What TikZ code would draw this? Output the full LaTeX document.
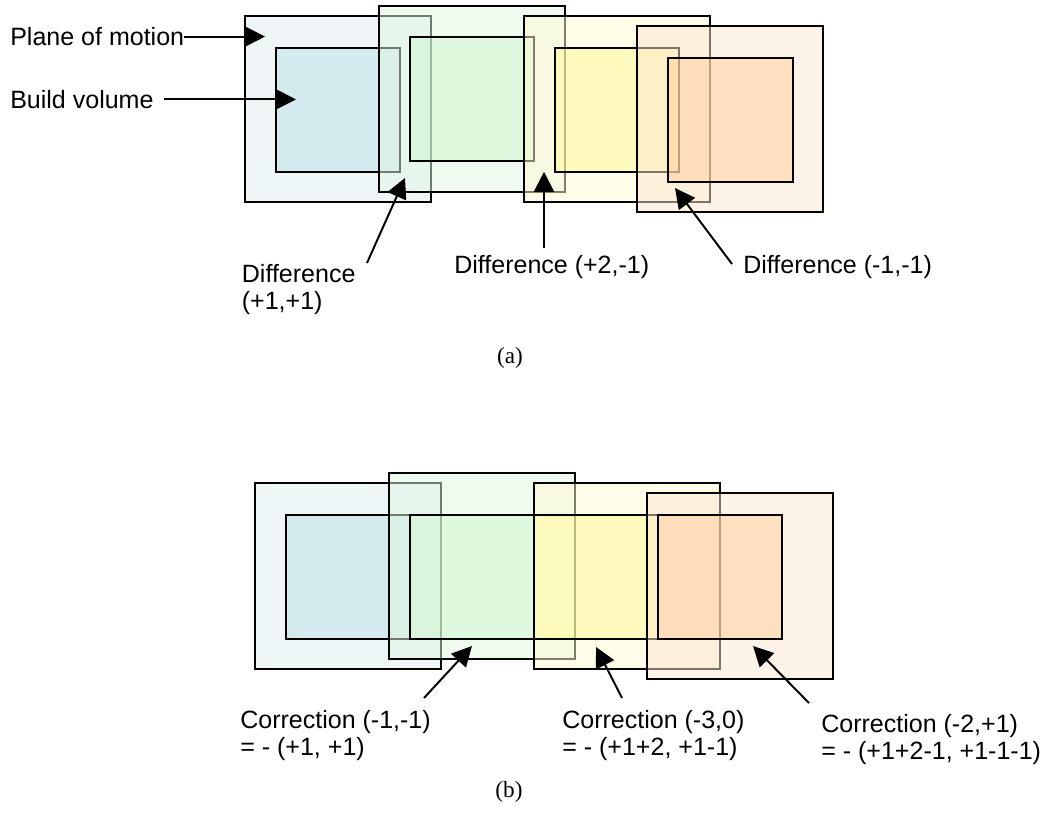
\documentclass[tikz,border=0pt]{standalone}
\usepackage{fontspec}
\setmainfont{Liberation Serif}
\newfontfamily\labelfont{Liberation Sans}
\usetikzlibrary{arrows.meta}
\begin{document}
\begin{tikzpicture}
	\tikzstyle{every node}=[font=\labelfont\fontsize{17.8pt}{19.3pt}\selectfont]
	\tikzstyle{plane}=[line width=1.4pt, fill opacity=0.5]
	\tikzstyle{pointer}=[line width=1.4pt, -{Triangle[length=0.5cm,width=0.5cm]}]
	\tikzstyle{callout}=[inner sep=0pt, align=left, anchor=north west]
	\tikzstyle{tag}=[inner sep=0pt, anchor=west]
	\tikzstyle{caption}=[font=\rmfamily\fontsize{16.5pt}{20pt}\selectfont]
	\useasboundingbox (0,0) rectangle (26.15,20.325);
	% (a) each plane of motion with its build volume
	\draw [plane, fill={rgb,255:red,221; green,237; blue,241}] (6.125,19.925) rectangle (10.775,15.275);
	\draw [plane, fill={rgb,255:red,186; green,224; blue,228}] (6.9,19.125) rectangle (10,16.025);
	\draw [plane, fill={rgb,255:red,225; green,247; blue,225}] (9.475,20.175) rectangle (14.125,15.525);
	\draw [plane, fill={rgb,255:red,204; green,247; blue,204}] (10.25,19.4) rectangle (13.35,16.3);
	\draw [plane, fill={rgb,255:red,255; green,251; blue,209}] (13.1,19.925) rectangle (17.75,15.275);
	\draw [plane, fill={rgb,255:red,255; green,249; blue,150}] (13.875,19.125) rectangle (16.975,16.025);
	\draw [plane, fill={rgb,255:red,253; green,231; blue,209}] (15.925,19.675) rectangle (20.575,15.025);
	\draw [plane, fill={rgb,255:red,255; green,203; blue,152}] (16.7,18.875) rectangle (19.825,15.775);
	% (b) build volumes lined up after correction
	\draw [plane, fill={rgb,255:red,221; green,237; blue,241}] (6.375,8.25) rectangle (11.025,3.6);
	\draw [plane, fill={rgb,255:red,186; green,224; blue,228}] (7.15,7.45) rectangle (10.25,4.35);
	\draw [plane, fill={rgb,255:red,225; green,247; blue,225}] (9.725,8.5) rectangle (14.375,3.85);
	\draw [plane, fill={rgb,255:red,204; green,247; blue,204}] (10.25,7.45) rectangle (13.35,4.35);
	\draw [plane, fill={rgb,255:red,255; green,251; blue,209}] (13.35,8.25) rectangle (18,3.6);
	\draw [plane, fill={rgb,255:red,255; green,249; blue,150}] (13.35,7.45) rectangle (16.45,4.35);
	\draw [plane, fill={rgb,255:red,253; green,231; blue,209}] (16.175,8) rectangle (20.825,3.35);
	\draw [plane, fill={rgb,255:red,255; green,203; blue,152}] (16.45,7.45) rectangle (19.55,4.35);
	% labels (a)
	\node [tag] (planelbl) at (0.25,19.41) {Plane of motion};
	\node [tag] (buildlbl) at (0.25,17.84) {Build volume};
	\node [callout] (diffone) at (6.04,13.73) {Difference\\(+1,+1)};
	\node [callout] (difftwo) at (11.35,13.95) {Difference (+2,-1)};
	\node [callout] (diffthree) at (18.575,13.95) {Difference (-1,-1)};
	\node [caption] (capa) at (12.75,11.375) {(a)};
	\coordinate (planetip) at (6.625,19.41);
	\coordinate (buildtip) at (7.4,17.84);
	\coordinate (diffonetail) at (9.175,13.75);
	\coordinate (diffonetip) at (10.125,15.875);
	\coordinate (difftwotail) at (13.6,14.125);
	\coordinate (difftwotip) at (13.6,16.03);
	\coordinate (diffthreetail) at (18.3,13.725);
	\coordinate (diffthreetip) at (16.875,15.625);
	\draw [pointer] (planelbl.east) -- (planetip);
	\draw [pointer] ([xshift=0.25cm]buildlbl.east) -- (buildtip);
	\draw [pointer] (diffonetail) -- (diffonetip);
	\draw [pointer] (difftwotail) -- (difftwotip);
	\draw [pointer] (diffthreetail) -- (diffthreetip);
	% labels (b)
	\node [callout] (corrone) at (6,2.575) {Correction (-1,-1)\\= - (+1, +1)};
	\node [callout] (corrtwo) at (14.05,2.575) {Correction (-3,0)\\= - (+1+2, +1-1)};
	\node [callout] (corrthree) at (20.525,2.475) {Correction (-2,+1)\\= - (+1+2-1, +1-1-1)};
	\node [caption] (capb) at (12.725,0.525) {(b)};
	\coordinate (corronetail) at (10.6,2.875);
	\coordinate (corronetip) at (11.8,4.175);
	\coordinate (corrtwotail) at (15.55,2.875);
	\coordinate (corrtwotip) at (14.9,4.15);
	\coordinate (corrthreetail) at (20.225,2.75);
	\coordinate (corrthreetip) at (18.825,4.175);
	\draw [pointer] (corronetail) -- (corronetip);
	\draw [pointer] (corrtwotail) -- (corrtwotip);
	\draw [pointer] (corrthreetail) -- (corrthreetip);
\end{tikzpicture}
\end{document}
